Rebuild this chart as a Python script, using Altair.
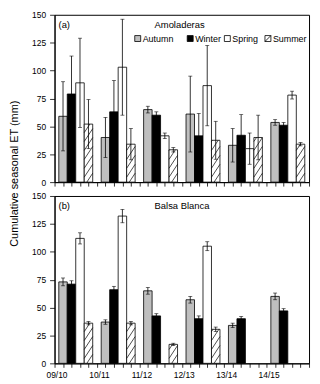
import altair as alt
import pandas as pd

years = ["09/10", "10/11", "11/12", "12/13", "13/14", "14/15"]
seasons = ["Autumn", "Winter", "Spring", "Summer"]

# Amoladeras (a)
autumn_a = [59, 40, 65, 61, 33, 53.5]
winter_a = [79, 63, 60, 41.5, 42, 51]
spring_a = [89, 103, 41.5, 86.5, 30, 78]
summer_a = [52, 34, 29, 37.5, 40, 34]
autumn_a_err = [31, 18, 3, 34, 15, 2.5]
winter_a_err = [34, 28, 3, 20, 18.5, 2.5]
spring_a_err = [40, 43, 2.5, 36, 14, 3.5]
summer_a_err = [22, 14, 2, 17, 20, 1.5]

# Balsa Blanca (b)
autumn_b = [73, 37, 65, 57, 34, 60]
winter_b = [71, 66, 42.5, 40, 40, 47]
spring_b = [112, 132, None, 105, None, None]
summer_b = [36, 36, 17, 30.5, None, None]
autumn_b_err = [3.5, 2, 3, 3, 2, 3]
winter_b_err = [3, 3, 2, 2.5, 2, 2]
spring_b_err = [5, 6, None, 4, None, None]
summer_b_err = [1.5, 1.5, 1, 2, None, None]

y_ticks = [0, 25, 50, 75, 100, 125, 150]

FONT = "Liberation Sans"
W, H = 257, 169
YMAX = 150
BAR_W = 0.2
PAD = 0.1
fills = ["#bfbfbf", "#000000", "#ffffff", "#ffffff"]


def table(means, errs):
    rows = []
    for si, s in enumerate(seasons):
        for gi, y in enumerate(years):
            v = means[si][gi]
            if v is None:
                continue
            e = errs[si][gi]
            x0 = gi + PAD + BAR_W * si
            rows.append(dict(season=s, year=y, x0=x0, x1=x0 + BAR_W,
                             xc=x0 + BAR_W / 2, v=v, base=0,
                             lo=v - e, hi=v + e))
    return pd.DataFrame(rows)


def hatch(df):
    pxmm = H / YMAX
    rise = 13 / pxmm
    step = 9 / pxmm
    rows = []
    for _, r in df[df.season == "Summer"].iterrows():
        top = r.v
        k = 1
        while True:
            b = -rise + k * step
            if b >= top:
                break
            ulo = max(0.0, -b / rise)
            uhi = min(1.0, (top - b) / rise)
            if uhi > ulo:
                rows.append(dict(
                    hx0=r.x0 + ulo * BAR_W, hy0=b + rise * ulo,
                    hx1=r.x0 + uhi * BAR_W, hy1=b + rise * uhi))
            k += 1
    return pd.DataFrame(rows)


x_vals = [round(k * 0.2, 1) for k in range(31)]
lab_arr = "[" + ",".join("'%s'" % y for y in years) + "]"
label_expr = ("abs(datum.value - round(datum.value)) < 0.01 && datum.value < 5.5 ? "
              + lab_arr + "[round(datum.value)] : ''")


def panel(means, errs, letter, site, show_labels, show_title):
    df = table(means, errs)
    hd = hatch(df)
    xs = alt.Scale(domain=[0, 6], nice=False, zero=False)
    ys = alt.Scale(domain=[0, YMAX], nice=False)
    if show_labels:
        xaxis = alt.Axis(values=x_vals, labelExpr=label_expr, title=None,
                         tickSize=4, labelFlush=False, labelOverlap=False,
                         labelOffset=2, labelPadding=3, labelFontSize=8.5)
    else:
        xaxis = alt.Axis(values=x_vals, labels=False, title=None, tickSize=4)
    if show_title:
        yaxis = alt.Axis(values=y_ticks, title="Cumulative seasonal ET (mm)",
                         titleX=-35, titleY=160, titleAngle=270,
                         titleAlign="center", titleBaseline="bottom",
                         titleFontSize=11, titleFontWeight="normal",
                         tickSize=5, labelPadding=4, labelOverlap=False,
                         labelFlush=False)
    else:
        yaxis = alt.Axis(values=y_ticks, title=None, tickSize=5, labelPadding=4,
                         labelOverlap=False, labelFlush=False)

    def X(f):
        return alt.X(f, type="quantitative", scale=xs, axis=xaxis)

    def Y(f):
        return alt.Y(f, type="quantitative", scale=ys, axis=yaxis)

    base = alt.Chart(df)
    bars = base.mark_bar(stroke="black", strokeWidth=0.8).encode(
        x=X("x0"), x2="x1:Q", y=Y("v"), y2="base:Q",
        fill=alt.Fill("season:N", scale=alt.Scale(domain=seasons, range=fills),
                      legend=None),
    )
    hl = alt.Chart(hd).mark_rule(color="black", strokeWidth=0.7).encode(
        x=X("hx0"), y=Y("hy0"), x2="hx1:Q", y2="hy1:Q")
    err = base.mark_rule(color="black", strokeWidth=0.8).encode(
        x=X("xc"), y=Y("lo"), y2="hi:Q")
    cap_hi = base.mark_tick(color="black", orient="horizontal", size=4,
                            thickness=0.8).encode(x=X("xc"), y=Y("hi"))
    cap_lo = base.mark_tick(color="black", orient="horizontal", size=4,
                            thickness=0.8).encode(x=X("xc"), y=Y("lo"))
    t_letter = alt.Chart(pd.DataFrame({"t": [letter]})).mark_text(
        align="left", baseline="middle", font=FONT, fontSize=9.5).encode(
        x=alt.value(4), y=alt.value(10), text="t:N")
    t_site = alt.Chart(pd.DataFrame({"t": [site]})).mark_text(
        align="left", baseline="middle", font=FONT, fontSize=9.5).encode(
        x=alt.value(101), y=alt.value(10), text="t:N")
    layers = [bars, hl, err, cap_hi, cap_lo, t_letter, t_site]
    return layers


def legend_layers():
    sym_x = [84, 137, 174.5, 215.5]
    ly = 24
    shapes = ["square", "square", "square", "M-1,-1H1V1H-1Z M-1,1L1,-1"]
    out = []
    for i, s in enumerate(seasons):
        d = pd.DataFrame({"t": [s]})
        out.append(alt.Chart(d).mark_point(
            shape=shapes[i], filled=True, fill=fills[i], stroke="black",
            strokeWidth=0.8, size=36, opacity=1).encode(
            x=alt.value(sym_x[i]), y=alt.value(ly)))
        out.append(alt.Chart(d).mark_text(
            align="left", baseline="middle", font=FONT, fontSize=9).encode(
            x=alt.value(sym_x[i] + 5), y=alt.value(ly), text="t:N"))
    return out


la = panel([autumn_a, winter_a, spring_a, summer_a],
           [autumn_a_err, winter_a_err, spring_a_err, summer_a_err],
           "(a)", "Amoladeras", False, True)
lb = panel([autumn_b, winter_b, spring_b, summer_b],
           [autumn_b_err, winter_b_err, spring_b_err, summer_b_err],
           "(b)", "Balsa Blanca", True, False)

chart_a = alt.layer(*la, *legend_layers()).properties(width=W, height=H)
chart_b = alt.layer(*lb).properties(width=W, height=H)

chart = alt.vconcat(chart_a, chart_b, spacing=14, bounds="flush").properties(
    padding={"left": 0, "top": 0, "right": 0, "bottom": 0},
    background="white",
).configure_view(stroke="black", strokeWidth=1).configure_axis(
    domainColor="black", tickColor="black", labelColor="black",
    titleColor="black", labelFont=FONT, titleFont=FONT, labelFontSize=8.5,
    grid=False, domainWidth=1, tickWidth=0.8)

chart.save("out.html", embed_options={"renderer": "svg", "actions": False})
